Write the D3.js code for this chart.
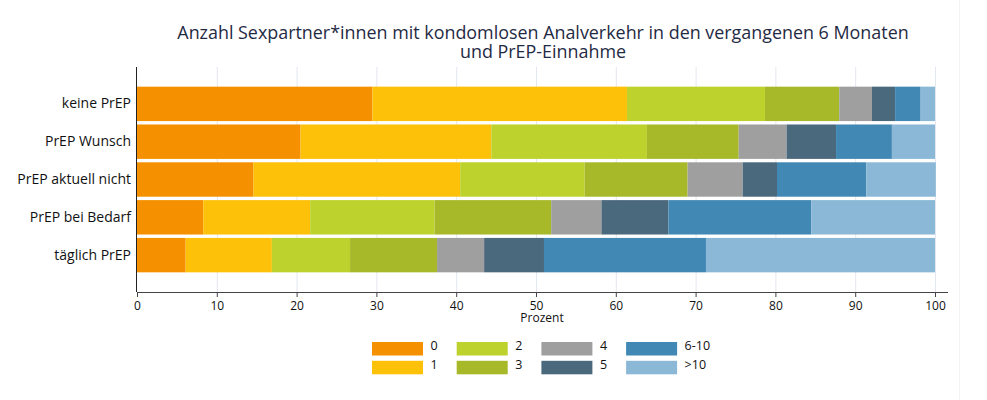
<!DOCTYPE html>
<html><head><meta charset="utf-8">
<script src="https://cdn.jsdelivr.net/npm/d3@7"></script>
<style>
body{margin:0;background:#fff;}
svg{display:block;font-family:"Open Sans","Noto Sans",sans-serif;}
</style></head>
<body><div id="chart"></div>
<script>
const categories = ["keine PrEP","PrEP Wunsch","PrEP aktuell nicht","PrEP bei Bedarf","täglich PrEP"];
const seriesNames = ["0","1","2","3","4","5","6-10",">10"];
const s0   = [29.5, 20.5, 14.6,  8.3,  6.1];
const s1   = [31.9, 23.9, 25.9, 13.4, 10.8];
const s2   = [17.3, 19.5, 15.6, 15.6,  9.8];
const s3   = [ 9.3, 11.5, 12.9, 14.6, 10.9];
const s4   = [ 4.1,  6.0,  6.9,  6.3,  5.9];
const s5   = [ 2.9,  6.2,  4.3,  8.4,  7.5];
const s610 = [ 3.2,  7.0, 11.2, 17.9, 20.3];
const sGt10= [ 1.8,  5.4,  8.7, 15.5, 28.7];
const xTicks = [0,10,20,30,40,50,60,70,80,90,100];
const colors = ["#F59100","#FEC10A","#BDD22C","#A7B829","#9F9F9F","#4B697D","#4189B4","#8AB8D6"];
const title1 = "Anzahl Sexpartner*innen mit kondomlosen Analverkehr in den vergangenen 6 Monaten";
const title2 = "und PrEP-Einnahme";
const xLabel = "Prozent";

const seriesVals = [s0,s1,s2,s3,s4,s5,s610,sGt10];
const rows = categories.map((c,i)=>{
  const r = {cat:c};
  seriesNames.forEach((s,j)=>r[s]=seriesVals[j][i]);
  return r;
});

const W=987,H=400;
const svg = d3.select("#chart").append("svg").attr("width",W).attr("height",H);

const x = d3.scaleLinear().domain([0,100]).range([137,935]);
const y = d3.scaleBand().domain(categories).range([67,292]).paddingInner(0.09).paddingOuter(0.52);

// faint container edge
svg.append("line").attr("x1",959.5).attr("x2",959.5).attr("y1",0).attr("y2",H).attr("stroke","#f3f3f3");

// gridlines
svg.append("g").selectAll("line").data(xTicks.slice(1)).join("line")
  .attr("x1",d=>x(d)+0.5).attr("x2",d=>x(d)+0.5).attr("y1",67).attr("y2",292)
  .attr("stroke","#e3e7ef").attr("stroke-width",1);

const stack = d3.stack().keys(seriesNames)(rows);
svg.append("g").selectAll("g").data(stack).join("g")
  .attr("fill",(d,i)=>colors[i])
  .selectAll("rect").data(d=>d).join("rect")
  .attr("x",d=>x(d[0])).attr("width",d=>x(d[1])-x(d[0]))
  .attr("y",d=>y(d.data.cat)).attr("height",y.bandwidth());

// x axis
const xa = svg.append("g").attr("transform","translate(0,292)")
  .call(d3.axisBottom(x).tickValues(xTicks).tickSize(5).tickSizeOuter(0).tickPadding(2));
xa.select(".domain").attr("d","M137,0.5H948").attr("stroke","#444");
xa.selectAll(".tick line").attr("stroke","#444");
xa.selectAll("text").attr("font-size",12).attr("fill","#111").attr("dy","0.9em")
  .attr("font-family","'Open Sans','Noto Sans',sans-serif");

// y axis
const ya = svg.append("g").attr("transform","translate(137,0)")
  .call(d3.axisLeft(y).tickSize(0).tickPadding(6));
ya.select(".domain").attr("d","M-0.5,67V292").attr("stroke","#222");
ya.selectAll("text").attr("font-size",14).attr("fill","#111")
  .attr("font-family","'Open Sans','Noto Sans',sans-serif");

svg.append("text").attr("x",542).attr("y",322).attr("text-anchor","middle")
  .attr("font-size",12).attr("fill","#111").text(xLabel);

// title
const t = svg.append("text").attr("text-anchor","middle").attr("fill","#1f2a44").attr("font-size",17.9);
t.append("tspan").attr("x",543).attr("y",39).text(title1);
t.append("tspan").attr("x",543).attr("y",58).text(title2);

// legend
const lg = svg.append("g");
seriesNames.forEach((s,i)=>{
  const col = Math.floor(i/2), row = i%2;
  const gx = 372 + col*84.7, gy = 342 + row*18.8;
  lg.append("rect").attr("x",gx).attr("y",gy).attr("width",51).attr("height",13.5).attr("fill",colors[i]);
  lg.append("text").attr("x",gx+58.5).attr("y",gy+8).attr("font-size",12.5).attr("fill","#111").text(s);
});
</script></body></html>
